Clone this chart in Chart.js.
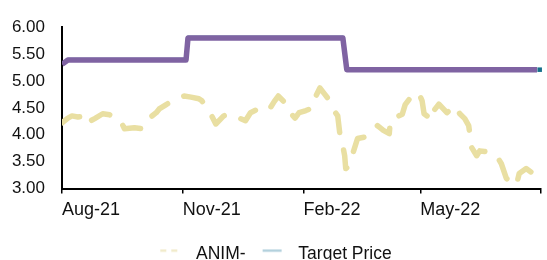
<!DOCTYPE html>
<html>
<head>
<meta charset="utf-8">
<script src="https://cdn.jsdelivr.net/npm/chart.js@4"></script>
<style>
  html, body { margin: 0; padding: 0; background: #fff; overflow: hidden; }
  #wrap { position: relative; width: 547px; height: 273px; }
</style>
</head>
<body>
<div id="wrap"><canvas id="c"></canvas></div>
<script>
// ---- data (days since 1 Aug 2021) ----
const priceDays = [0, 4.5, 7.6, 12.1, 17.4, 18.9, 24.9, 31.0, 36.3, 43.8, 47.6, 55.2, 61.2, 66.5, 71.8, 74.1, 79.4, 83.9, 89.2, 93.0, 98.3, 104.3, 106.6, 110.4, 114.1, 117.2, 123.2, 127.0, 133.0, 139.8, 143.6, 151.2, 157.2, 158.7, 161.8, 164.8, 172.3, 173.8, 177.6, 180.7, 185.9, 191.2, 193.5, 196.5, 200.3, 204.1, 206.3, 210.1, 211.6, 213.9, 215.4, 216.2, 217.7, 219.2, 220.7, 225.2, 231.3, 234.3, 240.4, 244.9, 249.4, 250.2, 259.3, 261.5, 264.6, 268.3, 272.1, 274.4, 275.9, 278.2, 279.7, 283.4, 287.2, 293.3, 299.3, 303.1, 306.9, 309.9, 312.2, 316.0, 318.3, 322.0, 325.0, 331.1, 334.8, 338.6, 342.4, 346.2, 348.4, 353.7, 359.0];
const priceValues = [4.22, 4.31, 4.35, 4.33, 4.35, 4.22, 4.30, 4.39, 4.37, 4.30, 4.11, 4.13, 4.11, 4.31, 4.41, 4.48, 4.56, 4.63, 4.69, 4.72, 4.70, 4.67, 4.63, 4.50, 4.35, 4.20, 4.35, 4.39, 4.33, 4.26, 4.41, 4.50, 4.54, 4.50, 4.62, 4.72, 4.54, 4.41, 4.31, 4.41, 4.45, 4.50, 4.72, 4.87, 4.75, 4.63, 4.48, 4.35, 4.04, 3.80, 3.61, 3.37, 3.40, 3.52, 3.58, 3.93, 3.96, 4.02, 4.17, 4.08, 4.02, 4.28, 4.38, 4.56, 4.66, 4.78, 4.76, 4.63, 4.39, 4.35, 4.26, 4.45, 4.57, 4.41, 4.54, 4.39, 4.30, 4.17, 3.76, 3.61, 3.70, 3.69, 3.67, 3.61, 3.46, 3.19, 3.10, 3.06, 3.28, 3.37, 3.28];

const stepDays = [0, 4.5, 94.5, 96, 214, 217, 362];
const consensusValues = [5.31, 5.39, 5.39, 5.80, 5.80, 5.21, 5.21];
const targetValues = [5.33, 5.42, 5.42, 5.83, 5.83, 5.24, 5.24];
const endDays = [364];
const endValues = [5.21];

const tickDays = [0, 92, 184, 273, 365];
const tickLabels = ['Aug-21', 'Nov-21', 'Feb-22', 'May-22', ''];
const yTicks = [3.0, 3.5, 4.0, 4.5, 5.0, 5.5, 6.0];

const seriesNames = ['ANIM-', 'Target Price'];
const colors = { price: '#e9dfa2', target: '#a9cbd8', consensus: '#7f63a2', end: '#16708c', text: '#111' };

const toXY = (xs, ys) => xs.map((x, i) => ({ x: x, y: ys[i] }));

function marker(color, width, dash) {
  const c = document.createElement('canvas');
  c.width = 30; c.height = 10;
  const g = c.getContext('2d');
  g.strokeStyle = color; g.lineWidth = width; g.setLineDash(dash);
  g.beginPath(); g.moveTo(3, 1.5); g.lineTo(22, 1.5); g.stroke();
  return c;
}
const legendMarkers = [marker('#efe8c4', 2, [6, 5]), marker(colors.target, 2, [])];

new Chart(document.getElementById('c'), {
  type: 'line',
  data: {
    datasets: [
      { label: seriesNames[0], data: toXY(priceDays, priceValues), borderColor: colors.price, borderWidth: 5.5,
        borderDash: [20, 18], borderCapStyle: 'round', borderJoinStyle: 'round', pointRadius: 0, tension: 0, order: 3 },
      { label: seriesNames[1], data: toXY(stepDays, targetValues), borderColor: colors.target, borderWidth: 2,
        pointRadius: 0, tension: 0, order: 2 },
      { label: '', data: toXY(stepDays, consensusValues), borderColor: colors.consensus, borderWidth: 5.5,
        borderJoinStyle: 'round', pointRadius: 0, tension: 0, order: 1 },
      { label: '', data: toXY(endDays, endValues), borderColor: colors.end, backgroundColor: colors.end,
        pointStyle: 'rect', pointRadius: 3.2, pointBorderWidth: 0, showLine: false, clip: false, order: 0 }
    ]
  },
  options: {
    responsive: true,
    maintainAspectRatio: false,
    animation: false,
    layout: { padding: { top: 26, right: 2, left: 4, bottom: 0 } },
    plugins: {
      tooltip: { enabled: false },
      legend: {
        position: 'bottom',
        labels: {
          usePointStyle: true,
          pointStyleWidth: 30,
          padding: 14,
          color: colors.text,
          font: { family: 'Liberation Sans, Arial, sans-serif', size: 17.5 },
          generateLabels: () => seriesNames.map((n, i) => ({
            text: n, pointStyle: legendMarkers[i], fillStyle: 'transparent', strokeStyle: 'transparent',
            lineWidth: 0, hidden: false, datasetIndex: i, fontColor: colors.text
          }))
        }
      }
    },
    scales: {
      x: {
        type: 'linear', min: 0, max: 365,
        afterBuildTicks: (s) => { s.ticks = tickDays.map(v => ({ value: v })); },
        afterFit: (s) => { s.height = 43; },
        ticks: {
          align: 'start', padding: 6, color: colors.text, maxRotation: 0, autoSkip: false,
          font: { family: 'Liberation Sans, Arial, sans-serif', size: 18 },
          callback: (v) => { const i = tickDays.indexOf(v); return i >= 0 ? tickLabels[i] : ''; }
        },
        grid: { drawOnChartArea: false, drawTicks: true, tickLength: 5, color: '#000', lineWidth: 1.5 },
        border: { color: '#000', width: 2 }
      },
      y: {
        min: 3, max: 6,
        afterBuildTicks: (s) => { s.ticks = yTicks.map(v => ({ value: v })); },
        afterFit: (s) => { s.width = 58; },
        ticks: {
          padding: 17, color: colors.text,
          font: { family: 'Liberation Sans, Arial, sans-serif', size: 17 },
          callback: (v) => Number(v).toFixed(2)
        },
        grid: { drawOnChartArea: false, drawTicks: false },
        border: { color: '#000', width: 2 }
      }
    }
  }
});
</script>
</body>
</html>
